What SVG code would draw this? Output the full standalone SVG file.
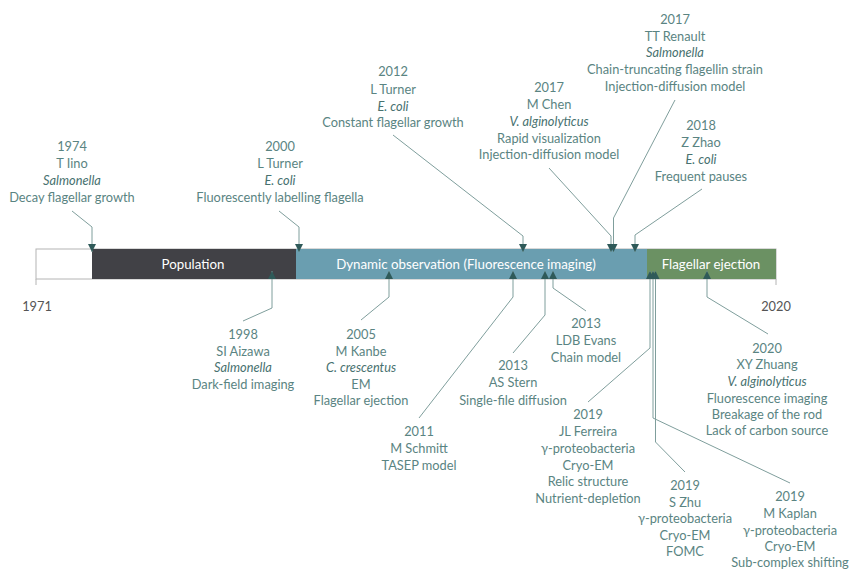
<svg xmlns="http://www.w3.org/2000/svg" width="849" height="569" viewBox="0 0 849 569">
<style>
.lbl{font-family:Lato,"Open Sans","DejaVu Sans",sans-serif;font-size:12.8px;fill:#5a8482;text-anchor:middle}
.it{font-style:italic;fill:#47716f}
.yr{font-family:Lato,"Open Sans","DejaVu Sans",sans-serif;font-size:12.8px;fill:#555555;text-anchor:middle}
.bar{font-family:Lato,"Open Sans","DejaVu Sans",sans-serif;font-size:13.3px;fill:#ffffff;text-anchor:middle}
.con{fill:none;stroke:#7f9e9c;stroke-width:1;marker-end:url(#ah)}
</style>
<defs>
<marker id="ah" viewBox="0 0 8 8" refX="8" refY="4" markerWidth="8" markerHeight="8" markerUnits="userSpaceOnUse" orient="auto">
<path d="M0,0 L8,4 L0,8 z" fill="#2f5a59"/>
</marker>
</defs>
<rect width="849" height="569" fill="#ffffff"/>
<g id="timeline">
<rect x="36" y="249" width="740" height="30" fill="#ffffff" stroke="#b4b4b4" stroke-width="1"/>
<line x1="36" y1="279" x2="36" y2="285" stroke="#b4b4b4"/>
<line x1="776" y1="279" x2="776" y2="285" stroke="#b4b4b4"/>
<rect x="92" y="249" width="204" height="30" fill="#414146"/>
<rect x="296" y="249" width="351" height="30" fill="#6a9eb0"/>
<rect x="647" y="249" width="129" height="30" fill="#6b9163"/>
<text class="bar" x="193" y="268.5">Population</text>
<text class="bar" x="466" y="268.5">Dynamic observation (Fluorescence imaging)</text>
<text class="bar" x="711" y="268.5">Flagellar ejection</text>
<text class="yr" x="37" y="311">1971</text>
<text class="yr" x="776" y="311">2020</text>
</g>
<g id="connectors">
<polyline class="con" points="72,211 92,227 92,252"/>
<polyline class="con" points="279,211 299,227 299,252"/>
<polyline class="con" points="393,135 523,236 523,252"/>
<polyline class="con" points="549,168 611,236 611,252"/>
<polyline class="con" points="675,100 613.5,218 613.5,252"/>
<polyline class="con" points="702,189 635,235 635,252"/>
<polyline class="con" points="243,321 272,308 272,271"/>
<polyline class="con" points="361,320 389,297 389,271"/>
<polyline class="con" points="419,418 513,297 513,271"/>
<polyline class="con" points="513,353 545,315 545,271"/>
<polyline class="con" points="586,311 553,288 553,271"/>
<polyline class="con" points="588,402 650,348 650,271"/>
<polyline class="con" points="790,483 653,418 653,271"/>
<polyline class="con" points="685,472 655.5,442 655.5,271"/>
<polyline class="con" points="768,334 707,297 707,271"/>
</g>
<g id="n1974"><text class="lbl"><tspan x="72" y="151">1974</tspan><tspan x="72" y="168">T Iino</tspan><tspan class="it" x="72" y="185">Salmonella</tspan><tspan x="72" y="202">Decay flagellar growth</tspan></text></g>
<g id="n2000"><text class="lbl"><tspan x="280" y="151">2000</tspan><tspan x="280" y="168">L Turner</tspan><tspan class="it" x="280" y="185">E. coli</tspan><tspan x="280" y="202">Fluorescently labelling flagella</tspan></text></g>
<g id="n2012"><text class="lbl"><tspan x="393" y="76">2012</tspan><tspan x="393" y="93.5">L Turner</tspan><tspan class="it" x="393" y="110.5">E. coli</tspan><tspan x="393" y="127">Constant flagellar growth</tspan></text></g>
<g id="n2017a"><text class="lbl"><tspan x="549" y="92">2017</tspan><tspan x="549" y="109">M Chen</tspan><tspan class="it" x="549" y="126">V. alginolyticus</tspan><tspan x="549" y="142.5">Rapid visualization</tspan><tspan x="549" y="159">Injection-diffusion model</tspan></text></g>
<g id="n2017b"><text class="lbl"><tspan x="675" y="23.5">2017</tspan><tspan x="675" y="40.5">TT Renault</tspan><tspan class="it" x="675" y="57">Salmonella</tspan><tspan x="675" y="74">Chain-truncating flagellin strain</tspan><tspan x="675" y="90.5">Injection-diffusion model</tspan></text></g>
<g id="n2018"><text class="lbl"><tspan x="701" y="130">2018</tspan><tspan x="701" y="147">Z Zhao</tspan><tspan class="it" x="701" y="164">E. coli</tspan><tspan x="701" y="180.5">Frequent pauses</tspan></text></g>
<g id="n1998"><text class="lbl"><tspan x="243" y="338.5">1998</tspan><tspan x="243" y="355.5">SI Aizawa</tspan><tspan class="it" x="243" y="372">Salmonella</tspan><tspan x="243" y="389">Dark-field imaging</tspan></text></g>
<g id="n2005"><text class="lbl"><tspan x="361" y="338.5">2005</tspan><tspan x="361" y="355.5">M Kanbe</tspan><tspan class="it" x="361" y="372">C. crescentus</tspan><tspan x="361" y="389">EM</tspan><tspan x="361" y="404.5">Flagellar ejection</tspan></text></g>
<g id="n2011"><text class="lbl"><tspan x="419" y="435.5">2011</tspan><tspan x="419" y="452.5">M Schmitt</tspan><tspan x="419" y="469.5">TASEP model</tspan></text></g>
<g id="n2013a"><text class="lbl"><tspan x="513" y="370">2013</tspan><tspan x="513" y="387">AS Stern</tspan><tspan x="513" y="404.5">Single-file diffusion</tspan></text></g>
<g id="n2013b"><text class="lbl"><tspan x="586" y="328">2013</tspan><tspan x="586" y="345">LDB Evans</tspan><tspan x="586" y="362">Chain model</tspan></text></g>
<g id="n2019a"><text class="lbl"><tspan x="588" y="419">2019</tspan><tspan x="588" y="436">JL Ferreira</tspan><tspan x="588" y="453">γ-proteobacteria</tspan><tspan x="588" y="470">Cryo-EM</tspan><tspan x="588" y="486">Relic structure</tspan><tspan x="588" y="503">Nutrient-depletion</tspan></text></g>
<g id="n2019b"><text class="lbl"><tspan x="685" y="489.5">2019</tspan><tspan x="685" y="506.5">S Zhu</tspan><tspan x="685" y="523">γ-proteobacteria</tspan><tspan x="685" y="539.5">Cryo-EM</tspan><tspan x="685" y="556">FOMC</tspan></text></g>
<g id="n2019c"><text class="lbl"><tspan x="790" y="500.5">2019</tspan><tspan x="790" y="517.5">M Kaplan</tspan><tspan x="790" y="534.5">γ-proteobacteria</tspan><tspan x="790" y="551">Cryo-EM</tspan><tspan x="790" y="567">Sub-complex shifting</tspan></text></g>
<g id="n2020"><text class="lbl"><tspan x="767" y="352.5">2020</tspan><tspan x="767" y="369">XY Zhuang</tspan><tspan class="it" x="767" y="386">V. alginolyticus</tspan><tspan x="767" y="402.5">Fluorescence imaging</tspan><tspan x="767" y="418.5">Breakage of the rod</tspan><tspan x="767" y="435">Lack of carbon source</tspan></text></g>
</svg>
